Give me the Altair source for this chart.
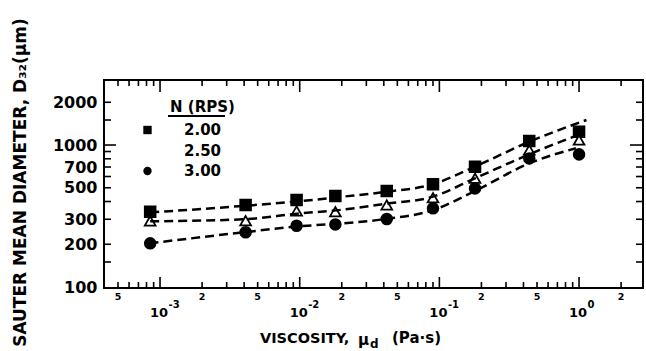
import altair as alt
import pandas as pd

# ---------------- data ----------------
series = ["2.00", "2.50", "3.00"]

visc = [8.5e-4, 4.1e-3, 9.5e-3, 1.8e-2, 4.2e-2, 9.0e-2, 1.8e-1, 4.4e-1, 1.0]
d_200 = [339, 378, 410, 437, 474, 529, 703, 1066, 1241]
d_250 = [292, 293, 343, 339, 378, 425, 583, 922, 1084]
d_300 = [203, 243, 270, 276, 301, 358, 495, 805, 859]

fit_x_200 = [8.5e-4, 4e-3, 1e-2, 2e-2, 4e-2, 9e-2, 1.8e-1, 4.4e-1, 1.13]
fit_200 = [335, 373, 402, 432, 466, 530, 705, 1055, 1500]
fit_x_250 = [8.5e-4, 4e-3, 1e-2, 2e-2, 4e-2, 9e-2, 1.8e-1, 4.4e-1, 1.07]
fit_250 = [290, 300, 330, 350, 384, 433, 583, 860, 1215]
fit_x_300 = [8.4e-4, 4e-3, 1e-2, 2e-2, 4e-2, 9e-2, 1.8e-1, 4.4e-1, 0.95]
fit_300 = [203, 243, 268, 280, 300, 348, 475, 743, 950]

x_minor_ticks = [5e-4, 6e-4, 7e-4, 8e-4, 9e-4,
                 2e-3, 3e-3, 4e-3, 5e-3, 6e-3, 7e-3, 8e-3, 9e-3,
                 2e-2, 3e-2, 4e-2, 5e-2, 6e-2, 7e-2, 8e-2, 9e-2,
                 2e-1, 3e-1, 4e-1, 5e-1, 6e-1, 7e-1, 8e-1, 9e-1, 2.0]
x_major_ticks = [1e-3, 1e-2, 1e-1, 1.0]
x_small_label_vals = [5e-4, 2e-3, 5e-3, 2e-2, 5e-2, 2e-1, 5e-1, 2.0]
x_small_labels = ["5", "2", "5", "2", "5", "2", "5", "2"]
x_decade_exps = ["-3", "-2", "-1", "0"]

y_minor_ticks = [150, 200, 300, 400, 500, 600, 700, 800, 900, 1500, 2000]
y_major_ticks = [1000]
y_label_vals = [100, 200, 300, 500, 700, 1000, 2000]

# ---------------- tables ----------------
pts = pd.DataFrame({
    "x": visc * 3,
    "y": d_200 + d_250 + d_300,
    "N": [series[0]] * len(visc) + [series[1]] * len(visc) + [series[2]] * len(visc),
})
fit = pd.DataFrame({
    "x": fit_x_200 + fit_x_250 + fit_x_300,
    "y": fit_200 + fit_250 + fit_300,
    "curve": ["a"] * len(fit_200) + ["b"] * len(fit_250) + ["c"] * len(fit_300),
})
xmin = pd.DataFrame({"x": x_minor_ticks, "kind": ["xminor"] * len(x_minor_ticks)})
xmaj = pd.DataFrame({"x": x_major_ticks, "kind": ["xmajor"] * len(x_major_ticks)})
xsl = pd.DataFrame({"x": x_small_label_vals, "t": x_small_labels})
xdec = pd.DataFrame({"x": x_major_ticks, "e": x_decade_exps})
ymin = pd.DataFrame({"y": y_minor_ticks, "kind": ["yminor"] * len(y_minor_ticks)})
ymaj = pd.DataFrame({"y": y_major_ticks, "kind": ["ymajor"] * len(y_major_ticks)})

W, H = 539, 208
FONT = "DejaVu Sans"

xs = alt.Scale(type="log", domain=[3.97e-4, 2.87])
ys = alt.Scale(type="log", domain=[98.4, 2870])
x_enc = alt.X("x:Q", scale=xs, axis=None)
y_axis = alt.Axis(values=y_label_vals, format="d", ticks=False, domain=False, grid=False,
                  labelFont=FONT, labelFontSize=16, labelFontWeight="bold", labelColor="black",
                  labelPadding=7, labelOverlap=False,
                  title="SAUTER MEAN DIAMETER, D₃₂(μm)", titleFont=FONT, titleFontSize=17,
                  titleFontWeight="bold", titleColor="black", titleX=-84, titleY=102,
                  titleAngle=-90, titleAlign="center", titleBaseline="middle")
y_enc = alt.Y("y:Q", scale=ys, axis=y_axis)

leg = alt.Legend(title=None, orient="none", legendX=36, legendY=42.5, padding=0,
                 labelFont=FONT, labelFontSize=15, labelFontWeight="bold", labelColor="black",
                 labelOffset=29, rowPadding=4.5, symbolSize=70, symbolStrokeWidth=1.6,
                 symbolStrokeColor="black")
points = alt.Chart(pts).mark_point(filled=True, size=115, strokeWidth=1.8, opacity=1).encode(
    x=x_enc, y=y_enc,
    shape=alt.Shape("N:N", scale=alt.Scale(domain=series, range=["square", "triangle-up", "circle"]), legend=leg),
    fill=alt.Fill("N:N", scale=alt.Scale(domain=series, range=["black", "white", "black"]), legend=leg),
    stroke=alt.value("black"),
)

# inward ticks on all four sides, placed through the scales
def xticks(df, y0, y1):
    return alt.Chart(df).mark_rule(color="black", strokeWidth=1.6).encode(
        x=x_enc, y=alt.value(y0), y2=alt.value(y1))

def yticks(df, x0, x1):
    return alt.Chart(df).mark_rule(color="black", strokeWidth=1.6).encode(
        y=y_enc, x=alt.value(x0), x2=alt.value(x1))

ticks = [
    xticks(xmin, H, H - 6), xticks(xmaj, H, H - 11),
    xticks(xmin, 0, 6), xticks(xmaj, 0, 12),
    yticks(ymin, 0, 7), yticks(ymaj, 0, 12),
    yticks(ymin, W, W - 7), yticks(ymaj, W, W - 13),
]

lines = alt.Chart(fit).mark_line(color="black", strokeWidth=2.5, interpolate="monotone",
                                 strokeDash=[9, 5]).encode(
    x=x_enc, y=y_enc, detail="curve:N",
)

small_lbl = alt.Chart(xsl).mark_text(font=FONT, fontSize=9.5, fontWeight="bold", color="black",
                                     align="center", baseline="alphabetic").encode(
    x=x_enc, y=alt.value(220), text="t:N")
dec_lbl = alt.Chart(xdec).mark_text(font=FONT, fontSize=13, fontWeight="bold", color="black",
                                    align="center", baseline="alphabetic", dx=-1).encode(
    x=x_enc, y=alt.value(237), text=alt.value("10"))
exp_lbl = alt.Chart(xdec).mark_text(font=FONT, fontSize=10, fontWeight="bold", color="black",
                                    align="left", baseline="alphabetic", dx=8.5).encode(
    x=x_enc, y=alt.value(228), text="e:N")

def note(txt, x, y, size, align="left"):
    return alt.Chart(pd.DataFrame({"t": [txt]})).mark_text(
        font=FONT, fontSize=size, fontWeight="bold", color="black", align=align,
        baseline="alphabetic").encode(x=alt.value(x), y=alt.value(y), text="t:N")

leg_title = note("N (RPS)", 66, 32, 15)
underline = alt.Chart(pd.DataFrame({"t": [0]})).mark_rule(color="black", strokeWidth=2).encode(
    x=alt.value(64), x2=alt.value(121), y=alt.value(36))
xt1 = note("VISCOSITY,", 156, 263, 14.5)
xt2 = note("μ", 254, 265, 15)
xt3 = note("d", 266, 268, 12)
xt4 = note("(Pa·s)", 288, 263, 15)

chart = alt.layer(
    points, *ticks, lines, small_lbl, dec_lbl, exp_lbl,
    leg_title, underline, xt1, xt2, xt3, xt4,
).properties(
    width=W, height=H,
    autosize=alt.AutoSizeParams(type="none"),
    padding={"left": 104, "top": 80, "right": 3, "bottom": 63},
    background="white",
).configure_view(stroke="black", strokeWidth=2)

chart.save("out.html", embed_options={"renderer": "svg", "actions": False})
